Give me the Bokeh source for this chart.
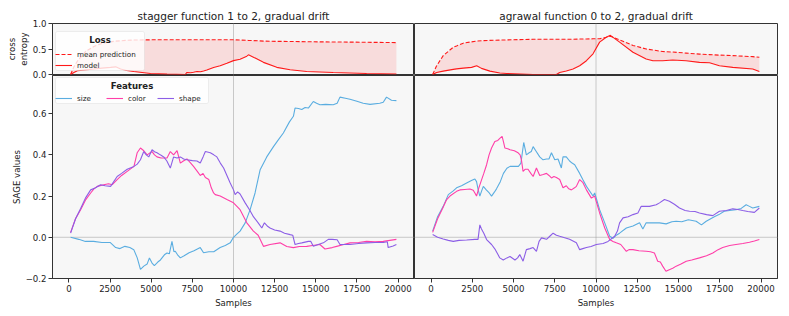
from bokeh.plotting import figure
from bokeh.models import (Range1d, FixedTicker, CustomJSTickFormatter, Span, Legend, LegendItem, Label,
                          BoxAnnotation)
from bokeh.layouts import column, row
from bokeh.embed import file_html
from bokeh.resources import INLINE

FONT = "DejaVu Sans"

# ---------------- data ----------------
titles = ["stagger function 1 to 2, gradual drift", "agrawal function 0 to 2, gradual drift"]
x_ticks = [0, 2500, 5000, 7500, 10000, 12500, 15000, 17500, 20000]
loss_ticks = [0.0, 0.5, 1.0]
sage_ticks = [-0.2, 0.0, 0.2, 0.4, 0.6]
drift_point = 10000

# loss (top) panels
stagger_loss_x = [100, 300, 510, 1000, 1520, 2000, 2530, 2840, 3140, 3500, 3940, 4950, 5960, 7070, 7170,
                  7400, 7570, 7780, 8000, 8180, 8380, 8790, 9190, 9600, 10000, 10400, 10810, 10910, 11210,
                  11820, 12630, 13440, 14450, 16060, 18090, 19900]
stagger_mean = [0, 0.15, 0.26, 0.45, 0.55, 0.61, 0.64, 0.655, 0.66, 0.67, 0.675, 0.68, 0.68, 0.68, 0.68,
                0.68, 0.68, 0.68, 0.68, 0.68, 0.68, 0.68, 0.68, 0.68, 0.68, 0.675, 0.67, 0.668, 0.665,
                0.655, 0.65, 0.648, 0.642, 0.638, 0.632, 0.625]
stagger_model = [0, 0.04, 0.073, 0.09, 0.107, 0.125, 0.139, 0.15, 0.107, 0.08, 0.06, 0.02, 0.007, 0.0, 0.04,
                 0.035, 0.045, 0.06, 0.055, 0.07, 0.087, 0.139, 0.172, 0.22, 0.272, 0.30, 0.36, 0.385, 0.34,
                 0.238, 0.14, 0.093, 0.06, 0.04, 0.02, 0.01]

agrawal_loss_x = [100, 340, 740, 1350, 1550, 1960, 2460, 2770, 3060, 3570, 4170, 4580, 6190, 7600, 7800,
                  8200, 8610, 9010, 9420, 9820, 10220, 10620, 10870, 11430, 12240, 13040, 13450, 14040,
                  14650, 15460, 16270, 16880, 17480, 18290, 19500, 19900]
agrawal_mean = [0, 0.17, 0.37, 0.535, 0.56, 0.615, 0.64, 0.655, 0.662, 0.67, 0.675, 0.678, 0.69, 0.69, 0.69,
                0.69, 0.692, 0.695, 0.697, 0.70, 0.70, 0.73, 0.75, 0.68, 0.57, 0.50, 0.48, 0.45,
                0.44, 0.42, 0.40, 0.39, 0.38, 0.37, 0.35, 0.337]
agrawal_model = [0, 0.04, 0.066, 0.10, 0.11, 0.125, 0.14, 0.172, 0.12, 0.066, 0.03, 0.02, 0.0, 0.0, 0.04,
                 0.07, 0.107, 0.172, 0.27, 0.405, 0.635, 0.73, 0.768, 0.635, 0.437, 0.305, 0.27, 0.27,
                 0.285, 0.27, 0.238, 0.23, 0.172, 0.14, 0.107, 0.06]

# SAGE (bottom) panels -- stagger
stagger_size_x = [100, 600, 1000, 1500, 2000, 2500, 2840, 3100, 3400, 3700, 3940, 4150, 4345, 4550, 4750,
                  4890, 5050, 5190, 5400, 5560, 5800, 5960, 6100, 6260, 6380, 6460, 6600, 6770, 7000, 7300,
                  7600, 7980, 8180, 8500, 8800, 9190, 9500, 9800, 10000, 10200, 10400, 10710, 11010, 11310,
                  11620, 12020, 12430, 12700, 13030, 13400, 13640, 13740, 13950, 14150, 14350, 14550, 14850,
                  15050, 15250, 15600, 16060, 16300, 16470, 16800, 17080, 17500, 17880, 18300, 18890, 19100,
                  19300, 19600, 19900]
stagger_size = [0.0, -0.01, -0.02, -0.02, -0.025, -0.025, -0.05, -0.055, -0.044, -0.05, -0.06, -0.10, -0.156,
                -0.14, -0.13, -0.10, -0.125, -0.137, -0.12, -0.11, -0.085, -0.076, -0.08, -0.02, -0.07, -0.068,
                -0.085, -0.10, -0.09, -0.075, -0.065, -0.05, -0.075, -0.07, -0.07, -0.05, -0.04, -0.027, 0.0,
                0.015, 0.03, 0.07, 0.134, 0.215, 0.328, 0.39, 0.44, 0.47, 0.506, 0.56, 0.587, 0.627, 0.625,
                0.62, 0.63, 0.627, 0.659, 0.65, 0.643, 0.645, 0.643, 0.65, 0.68, 0.675, 0.67, 0.66, 0.65,
                0.645, 0.65, 0.655, 0.68, 0.665, 0.663]

stagger_color_x = [100, 400, 710, 1000, 1320, 1520, 1720, 2120, 2400, 2630, 2930, 3200, 3540, 3950, 4145,
                   4345, 4550, 4750, 5050, 5200, 5350, 5600, 5960, 6160, 6360, 6570, 6770, 6950, 7170, 7400,
                   7570, 7800, 7980, 8150, 8290, 8500, 8650, 8790, 8890, 9190, 9600, 10000, 10400, 10810,
                   11210, 11500, 11820, 12220, 12830, 13240, 13640, 14000, 14450, 14800, 15250, 15560, 16000,
                   16270, 16700, 17080, 17600, 18090, 18600, 19100, 19500, 19900]
stagger_color = [0.024, 0.09, 0.134, 0.18, 0.215, 0.235, 0.247, 0.255, 0.26, 0.255, 0.28, 0.30, 0.32, 0.344,
                 0.41, 0.433, 0.42, 0.40, 0.416, 0.40, 0.39, 0.385, 0.385, 0.416, 0.40, 0.42, 0.36, 0.37,
                 0.38, 0.36, 0.344, 0.32, 0.30, 0.31, 0.29, 0.28, 0.24, 0.215, 0.207, 0.2, 0.183, 0.167,
                 0.134, 0.07, 0.03, 0.01, -0.044, -0.035, -0.027, -0.045, -0.05, -0.045, -0.044, -0.04,
                 -0.035, -0.057, -0.05, -0.044, -0.035, -0.027, -0.025, -0.02, -0.022, -0.02, -0.015, -0.01]

stagger_shape_x = [100, 400, 710, 1000, 1320, 1620, 1920, 2200, 2530, 2930, 3200, 3540, 3950, 4150, 4345,
                   4545, 4700, 4850, 5050, 5200, 5350, 5550, 5760, 5950, 6160, 6360, 6570, 6770, 6970, 7170,
                   7500, 7780, 7980, 8150, 8290, 8590, 8800, 8990, 9200, 9400, 9600, 9800, 10000, 10100,
                   10250, 10400, 10710, 11000, 11210, 11500, 11720, 11880, 12050, 12220, 12500, 12830, 13100,
                   13440, 13600, 13740, 13950, 14150, 14550, 14700, 14850, 15150, 15460, 15760, 16000, 16300,
                   16470, 16800, 17080, 17600, 18090, 18600, 19100, 19350, 19400, 19700, 19900]
stagger_shape = [0.02, 0.09, 0.14, 0.19, 0.23, 0.24, 0.255, 0.25, 0.247, 0.295, 0.31, 0.33, 0.344, 0.355,
                 0.376, 0.416, 0.40, 0.39, 0.425, 0.415, 0.41, 0.40, 0.39, 0.37, 0.336, 0.39, 0.385, 0.39,
                 0.38, 0.376, 0.372, 0.37, 0.36, 0.39, 0.416, 0.41, 0.40, 0.39, 0.36, 0.336, 0.30, 0.263,
                 0.23, 0.207, 0.22, 0.21, 0.167, 0.13, 0.10, 0.07, 0.045, 0.07, 0.055, 0.045, 0.035, 0.03,
                 0.02, 0.013, 0.01, -0.035, -0.03, -0.027, -0.02, -0.02, -0.044, -0.035, -0.027, -0.01,
                 -0.01, -0.012, -0.035, -0.035, -0.035, -0.03, -0.027, -0.025, -0.025, -0.022, -0.05,
                 -0.042, -0.035]

# SAGE (bottom) panels -- agrawal
agrawal_size_x = [100, 400, 740, 1050, 1350, 1550, 1850, 2160, 2450, 2660, 2760, 2860, 2960, 3070, 3170,
                  3350, 3530, 3670, 3850, 3970, 4200, 4390, 4600, 4790, 5050, 5300, 5450, 5620, 5700, 5780,
                  5950, 6080, 6190, 6350, 6590, 6790, 7000, 7150, 7300, 7500, 7700, 7900, 8000, 8200, 8400,
                  8550, 8710, 9010, 9200, 9420, 9820, 9920, 10220, 10530, 10830, 11030, 11230, 11430, 11840,
                  12240, 12640, 12840, 13040, 13450, 13850, 14250, 14600, 14860, 15200, 15600, 16070, 16390,
                  16680, 17170, 17450, 17770, 18100, 18480, 18800, 19100, 19300, 19500, 19900]
agrawal_size = [0.03, 0.10, 0.15, 0.207, 0.225, 0.24, 0.25, 0.263, 0.275, 0.283, 0.27, 0.23, 0.20, 0.225,
                0.247, 0.23, 0.215, 0.20, 0.22, 0.235, 0.27, 0.31, 0.335, 0.344, 0.345, 0.344, 0.36, 0.46,
                0.43, 0.40, 0.41, 0.416, 0.44, 0.42, 0.39, 0.376, 0.38, 0.38, 0.41, 0.376, 0.38, 0.336, 0.39,
                0.39, 0.37, 0.36, 0.352, 0.31, 0.28, 0.247, 0.2, 0.215, 0.134, 0.07, 0.005, -0.005, 0.01,
                0.02, 0.045, 0.055, 0.07, 0.04, 0.07, 0.07, 0.07, 0.065, 0.075, 0.078, 0.075, 0.085, 0.078,
                0.06, 0.078, 0.10, 0.11, 0.126, 0.13, 0.134, 0.14, 0.158, 0.15, 0.142, 0.15]

agrawal_color_x = [100, 400, 700, 950, 1150, 1550, 1750, 2050, 2360, 2560, 2660, 2760, 2900, 3070, 3200,
                   3370, 3520, 3670, 3870, 4050, 4170, 4310, 4400, 4480, 4650, 4790, 5050, 5280, 5400, 5480,
                   5580, 5700, 5880, 6050, 6190, 6390, 6590, 6800, 7000, 7150, 7300, 7450, 7600, 7800, 8000,
                   8200, 8350, 8510, 8700, 8810, 9010, 9210, 9420, 9720, 9920, 10220, 10530, 10830, 11030,
                   11230, 11500, 11840, 12000, 12240, 12600, 13040, 13300, 13540, 13740, 13900, 14040, 14240,
                   14440, 14650, 14860, 15150, 15470, 15800, 16270, 16700, 17080, 17400, 17680, 18100, 18480,
                   18900, 19300, 19600, 19900]
agrawal_color = [0.024, 0.09, 0.14, 0.183, 0.2, 0.223, 0.23, 0.232, 0.234, 0.228, 0.215, 0.20, 0.24, 0.28,
                 0.31, 0.352, 0.40, 0.433, 0.465, 0.47, 0.48, 0.49, 0.46, 0.433, 0.43, 0.425, 0.42, 0.41,
                 0.40, 0.376, 0.32, 0.33, 0.33, 0.31, 0.295, 0.336, 0.30, 0.305, 0.31, 0.30, 0.288, 0.295,
                 0.29, 0.28, 0.24, 0.25, 0.235, 0.23, 0.24, 0.247, 0.28, 0.265, 0.23, 0.19, 0.2, 0.118,
                 0.045, -0.011, -0.02, -0.027, -0.035, -0.068, -0.06, -0.06, -0.065, -0.068, -0.07, -0.076,
                 -0.116, -0.12, -0.14, -0.165, -0.157, -0.15, -0.14, -0.13, -0.116, -0.11, -0.10, -0.09,
                 -0.076, -0.06, -0.05, -0.04, -0.035, -0.03, -0.024, -0.018, -0.011]

agrawal_shape_x = [100, 400, 740, 1050, 1350, 1700, 2160, 2660, 2850, 2960, 3060, 3200, 3370, 3670, 3900,
                   4170, 4380, 4600, 4790, 5090, 5250, 5380, 5580, 5780, 6000, 6190, 6390, 6550, 6700, 7000,
                   7200, 7400, 7600, 7800, 8100, 8400, 8810, 9010, 9200, 9420, 9700, 10020, 10430, 10730,
                   11130, 11300, 11430, 11640, 11950, 12240, 12540, 12740, 13000, 13240, 13650, 13850, 14150,
                   14450, 14750, 15060, 15400, 15670, 16000, 16270, 16700, 17080, 17480, 17900, 18290, 18600,
                   18890, 19200, 19600, 19900]
agrawal_shape = [0.013, 0.0, -0.008, -0.015, -0.02, -0.015, -0.013, -0.01, -0.01, 0.06, 0.04, 0.02, -0.011,
                 -0.035, -0.06, -0.10, -0.11, -0.10, -0.093, -0.11, -0.10, -0.084, -0.116, -0.06, -0.055,
                 -0.05, -0.068, -0.02, -0.003, -0.01, 0.005, 0.02, 0.01, 0.005, -0.002, -0.01, -0.027, -0.06,
                 -0.055, -0.05, -0.045, -0.035, -0.03, -0.02, 0.005, 0.03, 0.07, 0.094, 0.10, 0.11, 0.118,
                 0.15, 0.15, 0.15, 0.158, 0.167, 0.183, 0.175, 0.16, 0.142, 0.13, 0.126, 0.125, 0.118, 0.11,
                 0.105, 0.126, 0.13, 0.138, 0.135, 0.13, 0.125, 0.121, 0.142]

feature_names = ["size", "color", "shape"]
feature_colors = ["#5aade0", "#ff3ea8", "#8c5ee6"]
loss_names = ["mean prediction", "model"]
loss_color = "#ff1a1a"

# ---------------- styling helpers ----------------
TXT = "#222222"
SPINE = "#333333"

xfmt = CustomJSTickFormatter(code="return tick.toFixed(0);")
yfmt = CustomJSTickFormatter(code="return tick.toFixed(1).replace('-', '\u2212');")


def make_fig(fw, fh, yr, left, right, top, bottom, has_x, has_y, **kw):
    p = figure(frame_width=fw, frame_height=fh,
               x_range=Range1d(-1000, 21000), y_range=yr,
               output_backend="svg", toolbar_location=None,
               x_axis_location="below" if has_x else None,
               y_axis_location="left" if has_y else None,
               min_border_left=left, min_border_right=right,
               min_border_top=top, min_border_bottom=bottom,
               background_fill_color="#f7f7f7", border_fill_color="white",
               outline_line_color=SPINE, outline_line_width=1, **kw)
    p.xgrid.visible = False
    p.ygrid.visible = False
    for ax in p.axis:
        ax.axis_line_color = SPINE
        ax.major_tick_line_color = SPINE
        ax.major_tick_out = 4
        ax.major_tick_in = 0
        ax.minor_tick_line_color = None
        ax.major_label_text_font = FONT
        ax.major_label_text_font_size = "8.6px"
        ax.major_label_text_color = TXT
        ax.axis_label_text_font = FONT
        ax.axis_label_text_font_size = "8.6px"
        ax.axis_label_text_font_style = "normal"
        ax.axis_label_text_color = TXT
        ax.major_label_standoff = 2
    if has_x:
        p.xaxis.ticker = FixedTicker(ticks=x_ticks)
        p.xaxis.formatter = xfmt
        p.xaxis.axis_label = "Samples"
        p.xaxis.axis_label_standoff = 3
    p.title.align = "center"
    p.title.text_font = FONT
    p.title.text_font_size = "10.5px"
    p.title.text_font_style = "normal"
    p.title.text_color = TXT
    p.title.standoff = 3
    vs = Span(location=drift_point, dimension="height", line_color="#999999",
              line_dash="1 1", line_width=1, level="underlay")
    p.add_layout(vs)
    return p


def legend_style():
    # legend drawn transparent; its box and centred title are drawn separately below
    return dict(title_text_font=FONT, title_text_font_style="bold", title_text_font_size="8.6px",
                title_text_color=None, title_standoff=1,
                label_text_font=FONT, label_text_font_size="7.2px", label_text_color=TXT,
                padding=3, margin=0, glyph_height=10, glyph_width=17,
                label_height=10, label_standoff=5,
                background_fill_alpha=0, border_line_color=None)


def legend_frame(p, left, bottom, w, h, title):
    p.add_layout(BoxAnnotation(left=left, right=left + w, bottom=bottom, top=bottom + h,
                               left_units="screen", right_units="screen",
                               bottom_units="screen", top_units="screen",
                               fill_color="white", fill_alpha=0.8, line_color="#cccccc",
                               line_width=1, border_radius=2, level="annotation"))
    p.add_layout(Label(x=left + w / 2, y=bottom + h - 8, x_units="screen", y_units="screen",
                       text=title, level="overlay",
                       text_font=FONT, text_font_style="bold", text_font_size="8.6px",
                       text_color=TXT, text_align="center", text_baseline="middle"))


FW = 362
TOP_H = 51
BOT_H = 203
OVER = 6
LEFT = 52
LOSS_Y = (0.0, 1.0)
SAGE_Y = (-0.2, 0.785)

panels = [
    (stagger_loss_x, stagger_mean, stagger_model,
     [(stagger_size_x, stagger_size), (stagger_color_x, stagger_color), (stagger_shape_x, stagger_shape)]),
    (agrawal_loss_x, agrawal_mean, agrawal_model,
     [(agrawal_size_x, agrawal_size), (agrawal_color_x, agrawal_color), (agrawal_shape_x, agrawal_shape)]),
]

tops, bots = [], []
for i, (lx, lmean, lmodel, feats) in enumerate(panels):
    first = i == 0
    left = LEFT if first else 0
    right = 0 if first else 4
    fw = FW if first else FW + 1
    # loss panel
    t = make_fig(fw, TOP_H, Range1d(*LOSS_Y), left, right, 23, OVER, False, first)
    t.title.text = titles[i]
    t.varea(x=lx, y1=lmodel, y2=lmean, fill_color=loss_color, fill_alpha=0.12)
    r_mean = t.line(lx, lmean, line_color=loss_color, line_dash="4 2", line_width=1.1)
    r_model = t.line(lx, lmodel, line_color=loss_color, line_width=1.1)
    if first:
        t.yaxis.ticker = FixedTicker(ticks=loss_ticks)
        t.yaxis.formatter = yfmt
        t.yaxis.axis_label = "cross\nentropy"
        t.yaxis.axis_label_standoff = 1
        legend_frame(t, 3, 4, 89, 39, "Loss")
        leg = Legend(items=[LegendItem(label=n, renderers=[r]) for n, r in zip(loss_names, [r_mean, r_model])],
                     location=(3, 4), title="Loss", spacing=1, **legend_style())
        t.add_layout(leg)
    tops.append(t)

    # SAGE panel
    b = make_fig(fw, BOT_H, Range1d(*SAGE_Y), left, right, 1, 32, True, first,
                 margin=(-OVER, 0, 0, 0))
    b.border_fill_alpha = 0
    hs = Span(location=0, dimension="width", line_color="#999999",
              line_dash="1 1", line_width=1, level="underlay")
    b.add_layout(hs)
    rs = []
    for (fx, fy), c in zip(feats, feature_colors):
        rs.append(b.line(fx, fy, line_color=c, line_width=1.1))
    if first:
        b.yaxis.ticker = FixedTicker(ticks=sage_ticks)
        b.yaxis.formatter = yfmt
        b.yaxis.axis_label = "SAGE values"
        b.yaxis.axis_label_standoff = 1
        legend_frame(b, 3, 175, 153, 26, "Features")
        leg = Legend(items=[LegendItem(label=n, renderers=[r]) for n, r in zip(feature_names, rs)],
                     orientation="horizontal", location=(3, 175), title="Features",
                     spacing=8, label_width=21, **legend_style())
        b.add_layout(leg)
    bots.append(b)

layout = column(row(tops[0], tops[1], spacing=0), row(bots[0], bots[1], spacing=0), spacing=0)

open("out.html", "w").write(file_html(layout, INLINE))
